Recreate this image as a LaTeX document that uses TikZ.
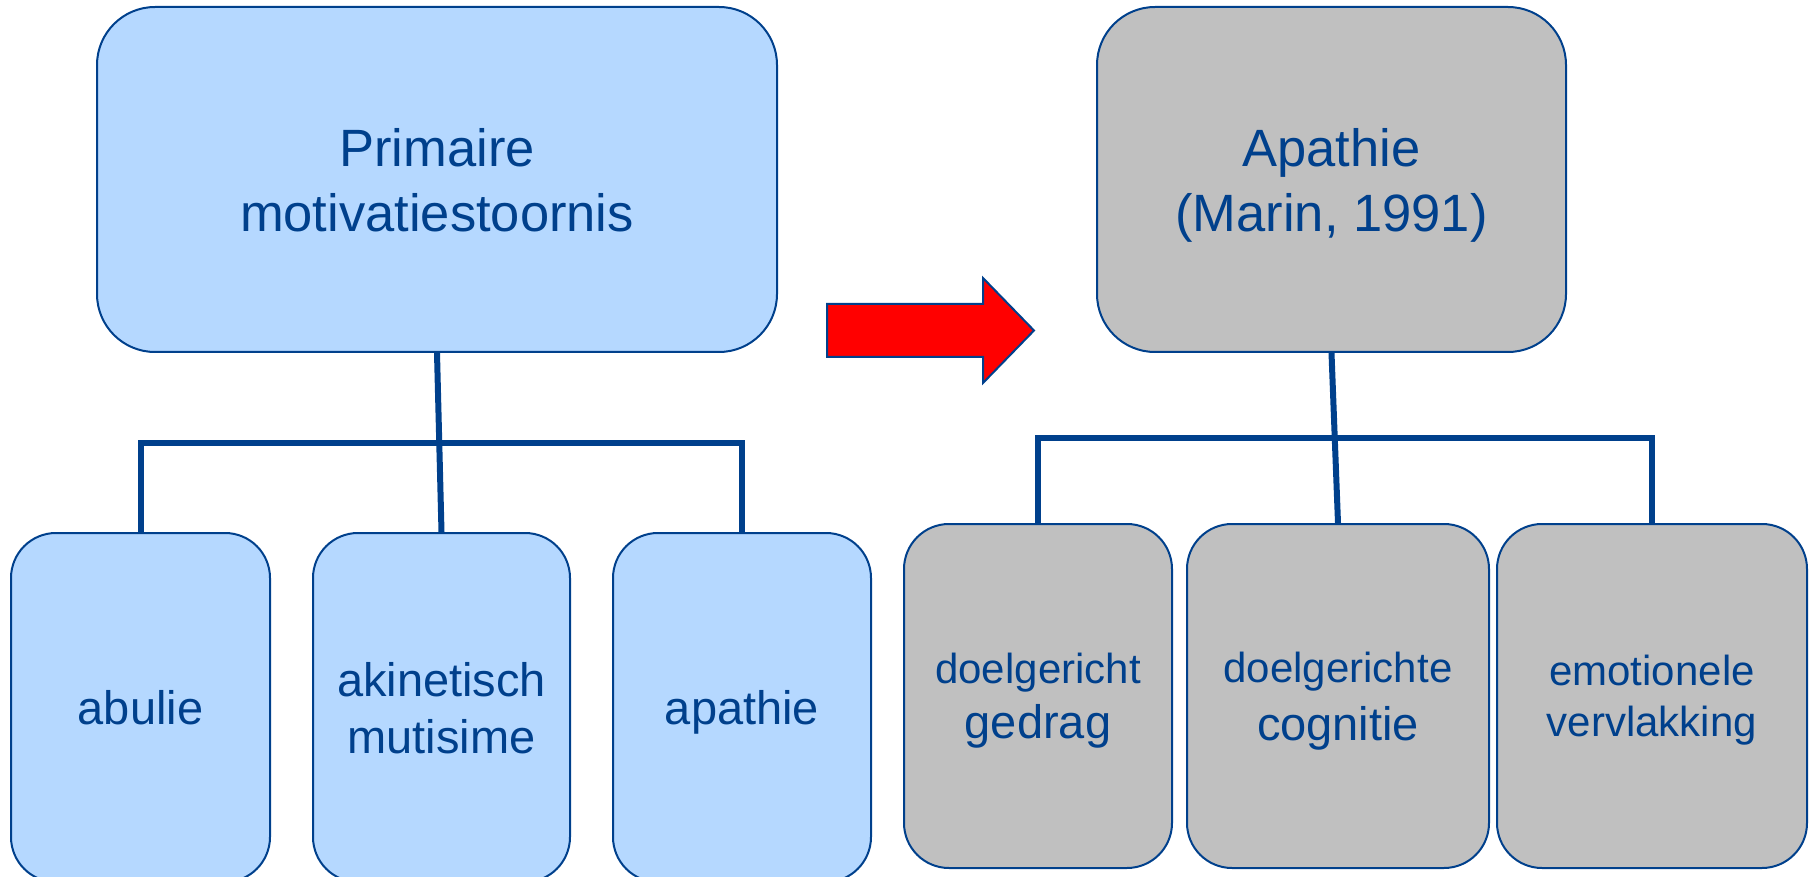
\documentclass[tikz,border=0pt]{standalone}
\usepackage{fontspec}
\setmainfont{Liberation Sans}
\definecolor{navy}{RGB}{0,64,140}
\definecolor{lightblue}{RGB}{181,216,255}
\definecolor{midgray}{RGB}{192,192,192}
\definecolor{arrowred}{RGB}{255,0,0}

\begin{document}
\begin{tikzpicture}[x=1pt,y=-1pt,line width=2pt]
  \tikzstyle{every node}=[draw=navy,text=navy,align=center,text depth=0pt,inner sep=0pt];
  \tikzstyle{bigbox}=[rounded corners=58pt,minimum height=345pt,font=\fontsize{52.5}{65}\selectfont];
  \tikzstyle{blueleaf}=[rounded corners=45pt,fill=lightblue,minimum height=349pt,font=\fontsize{47}{57}\selectfont];
  \tikzstyle{grayleaf}=[rounded corners=45pt,fill=midgray,minimum height=344pt,font=\fontsize{47}{55}\selectfont];
  \tikzstyle{bar}=[navy,line width=6pt];

  \clip (0,0) rectangle (1816,877);

  % upper boxes
  \node[bigbox,fill=lightblue,minimum width=680pt] (prim) at (437,179.5) {Primaire\\motivatiestoornis};
  \node[bigbox,fill=midgray,minimum width=469pt] (apa) at (1331.5,179.5) {Apathie\\(Marin, 1991)};

  % left children
  \node[blueleaf,minimum width=259pt] (abu) at (140.5,707.5) {abulie};
  \node[blueleaf,minimum width=257pt] (aki) at (441.5,707.5) {akinetisch\\mutisime};
  \node[blueleaf,minimum width=258pt] (apl) at (742,707.5) {apathie};

  % right children
  \node[grayleaf,minimum width=268pt] (dgg) at (1038,696) {{\fontsize{42}{50}\selectfont doelgericht}\\gedrag};
  \node[grayleaf,minimum width=302pt,font=\fontsize{47}{58}\selectfont] (dgc) at (1338,696) {{\fontsize{42}{50}\selectfont doelgerichte}\\cognitie};
  \node[grayleaf,minimum width=310pt,font=\fontsize{42}{51}\selectfont] (emo) at (1652,696) {emotionele\\vervlakking};

  \coordinate (lbar) at (437,443);
  \coordinate (rbar) at (1331.5,438);

  \draw[bar] (prim.south) -- (aki.north);
  \draw[bar] (abu.north) |- (lbar) -| (apl.north);
  \draw[bar] (apa.south) -- (dgc.north);
  \draw[bar] (dgg.north) |- (rbar) -| (emo.north);

  % arrow
  \draw[navy,fill=arrowred,line join=miter]
  (827,304) -- (983,304) -- (983,278) -- (1034,330.5) -- (983,383) -- (983,357) -- (827,357) -- cycle;
\end{tikzpicture}
\end{document}
